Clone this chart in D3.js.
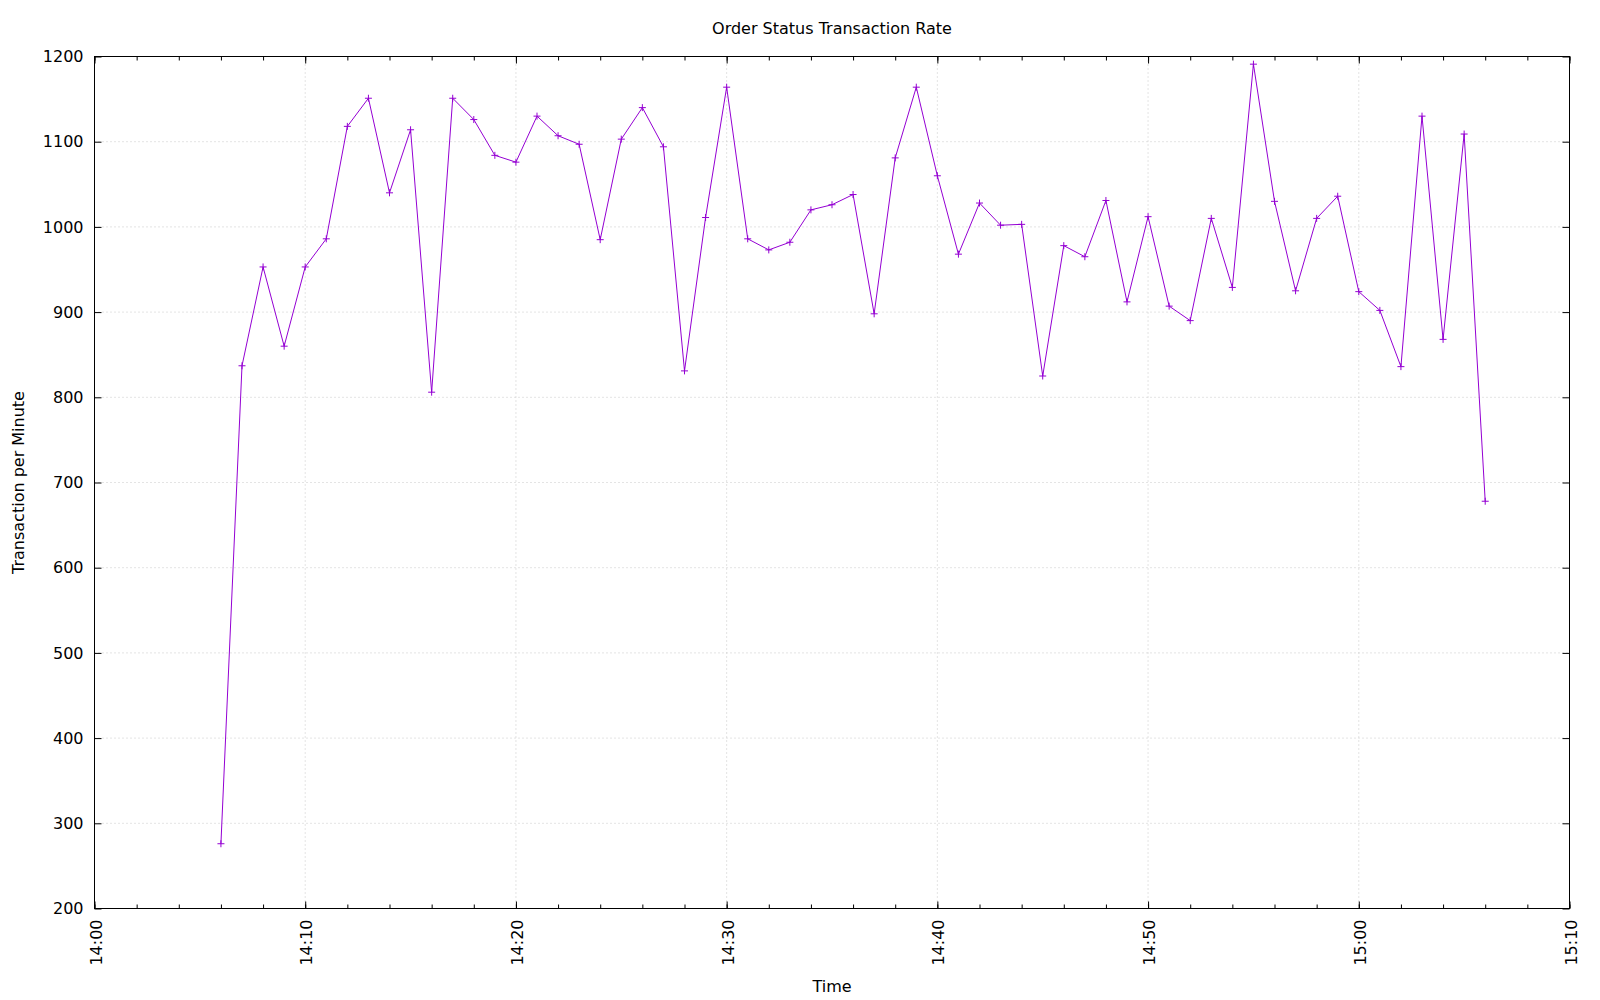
<!DOCTYPE html>
<html>
<head>
<meta charset="utf-8">
<script src="https://cdn.jsdelivr.net/npm/d3@7"></script>
<style>
  html, body { margin: 0; padding: 0; background: #fff; }
  svg { display: block; font-family: "DejaVu Sans", sans-serif; }
</style>
</head>
<body>
<svg id="chart" width="1600" height="1000"></svg>
<script>
// ---- Data ----
const times = ["14:06","14:07","14:08","14:09","14:10","14:11","14:12","14:13","14:14","14:15",
  "14:16","14:17","14:18","14:19","14:20","14:21","14:22","14:23","14:24","14:25",
  "14:26","14:27","14:28","14:29","14:30","14:31","14:32","14:33","14:34","14:35",
  "14:36","14:37","14:38","14:39","14:40","14:41","14:42","14:43","14:44","14:45",
  "14:46","14:47","14:48","14:49","14:50","14:51","14:52","14:53","14:54","14:55",
  "14:56","14:57","14:58","14:59","15:00","15:01","15:02","15:03","15:04","15:05","15:06"];
const rates = [276, 837, 953, 860, 953, 986, 1118, 1151, 1040, 1114,
  806, 1151, 1126, 1084, 1076, 1130, 1107, 1097, 985, 1103,
  1140, 1094, 831, 1011, 1164, 986, 973, 982, 1020, 1026,
  1038, 898, 1081, 1164, 1060, 968, 1028, 1002, 1003, 825,
  978, 965, 1031, 912, 1012, 907, 890, 1010, 929, 1191,
  1030, 925, 1010, 1036, 924, 902, 836, 1130, 868, 1109, 678];
const xDomain = ["14:00", "15:10"];
const yDomain = [200, 1200];
const yTicks = [200, 300, 400, 500, 600, 700, 800, 900, 1000, 1100, 1200];
const titleText = "Order Status Transaction Rate";
const xLabel = "Time";
const yLabel = "Transaction per Minute";

// ---- Layout ----
const pLeft = 94.5, pRight = 1569.5, pTop = 56.5, pBottom = 908.5;
const parse = s => { const [h, m] = s.split(":").map(Number); return new Date(2000, 0, 1, h, m); };
const data = times.map((t, i) => ({ t: parse(t), v: rates[i] }));

const x = d3.scaleTime().domain(xDomain.map(parse)).range([pLeft, pRight]);
const y = d3.scaleLinear().domain(yDomain).range([pBottom, pTop]);

const svg = d3.select("#chart");
const fontSize = 16;
const tickFont = 16;
const gridColor = "#c8c8c8";
const lineColor = "#9400d3";

// Grid
const g = svg.append("g");
g.selectAll("line.hgrid").data(yTicks.slice(1, -1)).join("line")
  .attr("x1", pLeft).attr("x2", pRight)
  .attr("y1", d => y(d)).attr("y2", d => y(d))
  .attr("stroke", gridColor).attr("stroke-width", 1).attr("stroke-dasharray", "1,3");
const majorX = d3.timeMinute.every(10).range(parse(xDomain[0]), d3.timeMinute.offset(parse(xDomain[1]), 1));
g.selectAll("line.vgrid").data(majorX.slice(1, -1)).join("line")
  .attr("x1", d => x(d)).attr("x2", d => x(d))
  .attr("y1", pTop).attr("y2", pBottom)
  .attr("stroke", gridColor).attr("stroke-width", 1).attr("stroke-dasharray", "1,3");

// Axes (ticks pointing inward)
const fmt = d3.timeFormat("%H:%M");
const xAxisB = svg.append("g").attr("transform", `translate(0,${pBottom})`)
  .call(d3.axisBottom(x).ticks(d3.timeMinute.every(10)).tickFormat(fmt).tickSizeInner(-7).tickSizeOuter(0));
const xAxisBMinor = svg.append("g").attr("transform", `translate(0,${pBottom})`)
  .call(d3.axisBottom(x).ticks(d3.timeMinute.every(2)).tickFormat("").tickSizeInner(-4).tickSizeOuter(0));
const xAxisT = svg.append("g").attr("transform", `translate(0,${pTop})`)
  .call(d3.axisTop(x).ticks(d3.timeMinute.every(10)).tickFormat("").tickSizeInner(-7).tickSizeOuter(0));
const xAxisTMinor = svg.append("g").attr("transform", `translate(0,${pTop})`)
  .call(d3.axisTop(x).ticks(d3.timeMinute.every(2)).tickFormat("").tickSizeInner(-4).tickSizeOuter(0));
const yAxisL = svg.append("g").attr("transform", `translate(${pLeft},0)`)
  .call(d3.axisLeft(y).tickValues(yTicks).tickFormat(d3.format("d")).tickSizeInner(-7).tickSizeOuter(0).tickPadding(11));
const yAxisR = svg.append("g").attr("transform", `translate(${pRight},0)`)
  .call(d3.axisRight(y).tickValues(yTicks).tickFormat("").tickSizeInner(-7).tickSizeOuter(0));

[xAxisB, xAxisBMinor, xAxisT, xAxisTMinor, yAxisL, yAxisR].forEach(a => {
  a.select(".domain").remove();
  a.selectAll(".tick line").attr("stroke", "#000").attr("stroke-width", 1);
});
yAxisL.selectAll("text").attr("font-size", tickFont).attr("font-family", "DejaVu Sans").attr("fill", "#000");
xAxisB.selectAll("text")
  .attr("font-size", tickFont).attr("font-family", "DejaVu Sans").attr("fill", "#000")
  .attr("text-anchor", "end").attr("dy", null).attr("y", null)
  .attr("dominant-baseline", "central")
  .attr("transform", "translate(1,11) rotate(-90)");

// Border
svg.append("rect").attr("x", pLeft).attr("y", pTop)
  .attr("width", pRight - pLeft).attr("height", pBottom - pTop)
  .attr("fill", "none").attr("stroke", "#000").attr("stroke-width", 1);

// Line
const line = d3.line().x(d => x(d.t)).y(d => y(d.v));
svg.append("path").datum(data).attr("d", line)
  .attr("fill", "none").attr("stroke", lineColor).attr("stroke-width", 1);

// Point markers (+)
const pts = svg.append("g").selectAll("g").data(data).join("g")
  .attr("transform", d => `translate(${x(d.t)},${y(d.v)})`);
pts.append("line").attr("x1", -3.5).attr("x2", 3.5).attr("y1", 0).attr("y2", 0)
  .attr("stroke", lineColor).attr("stroke-width", 1);
pts.append("line").attr("x1", 0).attr("x2", 0).attr("y1", -3.5).attr("y2", 3.5)
  .attr("stroke", lineColor).attr("stroke-width", 1);

// Titles
svg.append("text").attr("x", (pLeft + pRight) / 2).attr("y", 28)
  .attr("text-anchor", "middle").attr("dominant-baseline", "central")
  .attr("font-size", fontSize).attr("fill", "#000").text(titleText);
svg.append("text").attr("x", (pLeft + pRight) / 2).attr("y", 986)
  .attr("text-anchor", "middle").attr("dominant-baseline", "central")
  .attr("font-size", fontSize).attr("fill", "#000").text(xLabel);
svg.append("text").attr("transform", `translate(18,${(pTop + pBottom) / 2}) rotate(-90)`)
  .attr("text-anchor", "middle").attr("dominant-baseline", "central")
  .attr("font-size", fontSize).attr("fill", "#000").text(yLabel);
</script>
</body>
</html>
